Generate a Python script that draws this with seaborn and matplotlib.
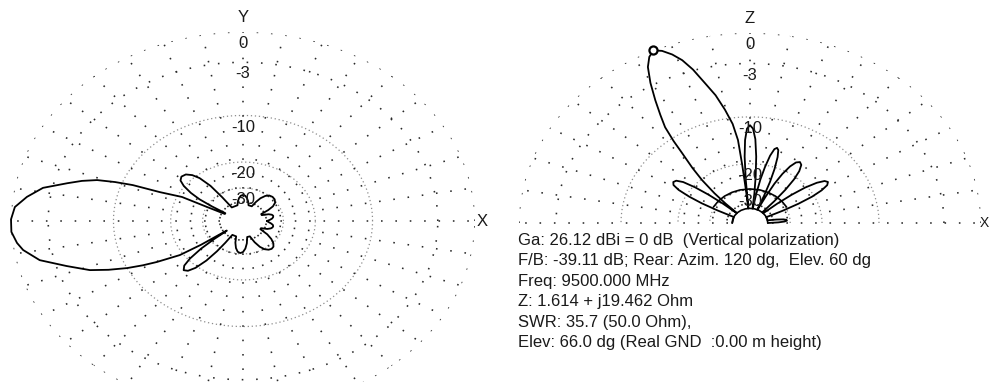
import numpy as np
import matplotlib
matplotlib.use("Agg")
import matplotlib.pyplot as plt
import seaborn as sns

# ---------------------------------------------------------------
# Horizontal (azimuth) pattern: angle in degrees, level in dB
# ---------------------------------------------------------------
azim_deg = [0, 3, 6, 9, 12, 15, 18, 21,
            25, 28, 31, 35, 40, 45, 50, 54, 58, 61, 64,
            74, 78, 82, 86, 90, 94, 98, 102, 106,
            124, 125.5, 127, 129.5, 132, 135, 138.5, 141.5, 144, 146.5, 148.5, 150, 151.5,
            154.6, 154.4, 154.2, 156.9, 158.2, 159.5, 161, 163, 165.2, 168.5, 172.2, 175.7,
            179.5, 183.3, 186.8, 189.2, 193.3, 197.4, 201.5, 204, 206.5, 208.5, 210.3,
            213.5, 214.8, 215.6,
            216.5, 217.5, 219, 221, 223, 225.5, 228, 230.5, 233, 235, 236.5, 238,
            250, 254, 258, 262, 266, 270, 274, 278, 282,
            290, 294, 298, 302, 306, 310, 314, 318, 322, 326, 330,
            334, 338, 342, 345, 348, 351, 354, 357, 360]
azim_db = [-39, -37, -35.5, -34.8, -34.6, -35.2, -37, -42,
           -42, -36, -32.5, -30.5, -29.6, -29.4, -29.8, -31, -33.5, -37, -42,
           -42, -38.5, -36, -34.5, -34, -34.5, -36, -38.5, -42,
           -42, -32, -25, -21, -19.2, -18.1, -17.8, -18.3, -19.8, -22.5, -26, -32, -42,
           -42, -30, -21.1, -16.2, -11.5, -9.1, -7.0, -5.5, -4.2, -2.2, -1.06, -0.24,
           0.0, 0.0, -0.33, -0.7, -1.8, -3.9, -5.9, -7.8, -10.0, -12.2, -14.5,
           -19.2, -26, -42,
           -42, -32, -25, -20.5, -18.2, -17.3, -17.8, -19.5, -23, -28, -34, -42,
           -42, -36.5, -33, -31, -30.4, -31, -33, -36.5, -42,
           -42, -36, -32, -29.8, -28.7, -28.3, -28.6, -29.8, -32, -35.5, -42,
           -42, -37.5, -35.5, -34.8, -34.6, -35, -36.2, -37.8, -39]

# ---------------------------------------------------------------
# Vertical (elevation) pattern over real ground
# ---------------------------------------------------------------
elev_deg = [0, 1.5, 3, 4.5, 6, 7.5, 9, 10.5,
            23.5, 24.5, 25.8, 27.3, 29, 30.8, 32.6, 34.4, 36.2, 38, 39.5, 40.8, 41.8,
            46.5, 47.5, 48.8, 50.3, 52, 54, 56, 58, 59.8, 61.5, 62.9, 64, 65,
            66, 67, 68.2, 69.5, 71, 72.3, 73.5, 74.8, 76.2, 77.6, 78.9, 80, 81,
            82, 83, 84.3, 85.6, 87, 88.5, 90, 91.5, 92.8, 93.8, 94.6, 95.2,
            95.8, 96.3, 96.8, 98.2, 100.3, 102.5, 104.8, 107, 108.9, 110.8, 112.8,
            114.7, 116.5, 118.3, 120.3, 122.4, 124.3, 126.1, 127.5, 128.6, 130.7,
            132.6, 134.5, 136, 137.2,
            138, 139, 140.3, 141.7, 143.3, 145.1, 147, 148.9, 150.6, 152.2, 153.6,
            154.8, 155.8, 180]
elev_db = [-44, -36, -32.5, -31.4, -31.6, -33, -37, -44,
           -44, -32, -25, -20.5, -17.8, -16.2, -15.7, -16.1, -17.6, -20.5, -25, -32, -44,
           -44, -32, -25, -20.8, -18.2, -16.7, -16.3, -16.8, -18.3, -21, -25, -32, -44,
           -44, -32, -25, -20.5, -17.2, -15.6, -15.2, -15.6, -17.3, -20.6, -25, -32, -44,
           -44, -32, -24, -18, -14, -12, -11.4, -12, -14.2, -18, -25, -44,
           -30, -20, -14.1, -11, -8.6, -6.4, -4.7, -2.9, -1.7, -0.9, -0.3,
           0.0, -0.4, -1.2, -2.7, -4.6, -6.4, -8.1, -10.5, -12.9, -16.5,
           -20.3, -26, -33, -44,
           -44, -32, -25, -20.5, -17.5, -16.2, -15.9, -16.3, -17.8, -20.8, -25,
           -32, -44, -44]

# weak components traced near the ground
cross_deg = [28, 40, 52, 64, 76, 90, 104, 116, 128, 140, 152]
cross_db = [-29.5, -29.5, -29.5, -29.5, -29.5, -29.5, -29.5, -29.5, -29.5, -29.5, -29.5]
floor_deg = [0, 15, 30, 45, 60, 75, 90, 105, 120, 135, 150, 165, 180]
floor_db = [-44, -44, -44, -44, -44, -44, -44, -44, -44, -44, -44, -44, -44]

outer_rings = [0, -3]
inner_rings = [-10, -20, -30]
ring_db = [0, -3, -10, -20, -30]
ring_labels = ["0", "-3", "-10", "-20", "-30"]

info_lines = [
    "Ga: 26.12 dBi = 0 dB  (Vertical polarization)",
    "F/B: -39.11 dB; Rear: Azim. 120 dg,  Elev. 60 dg",
    "Freq: 9500.000 MHz",
    "Z: 1.614 + j19.462 Ohm",
    "SWR: 35.7 (50.0 Ohm),",
    "Elev: 66.0 dg (Real GND  :0.00 m height)",
]

# ---------------------------------------------------------------
sns.set_theme(style="white")
plt.rcParams["font.family"] = ["Liberation Sans", "DejaVu Sans"]

K = 0.89  # logarithmic polar scale: 2 dB per step of 0.89
R_MIN = -300.0  # practically the centre of the plot
SPOKE_START = -40.0


def db_to_r(d):
    return np.power(K, -np.asarray(d, dtype=float) / 2.0)


def r_to_db(r):
    r = np.maximum(np.asarray(r, dtype=float), 1e-300)
    return -2.0 * np.log(r) / np.log(K)


FW, FH = 989, 382
fig = plt.figure(figsize=(FW / 100, FH / 100), dpi=100)

sparse_dots = dict(color="#2a2a2a", linestyle=(0, (1, 8)), linewidth=1.15)
fine_dots = dict(color="#8c8c8c", linestyle=(0, (1, 2.2)), linewidth=0.9)


def polar_axes(cx, cy, rx, ry, span_deg):
    ax = fig.add_axes([(cx - rx) / FW, ((FH - cy) - ry) / FH,
                       2 * rx / FW, 2 * ry / FH], projection="polar")
    ax.set_aspect("auto")
    ax.set_rscale("function", functions=(db_to_r, r_to_db))
    ax.grid(False)
    ax.set_xticks([])
    ax.set_yticks([])
    ax.set_facecolor("none")
    for sp in ax.spines.values():
        sp.set_visible(False)

    # dotted polar grid: rings at the labelled levels, spokes every 10 degrees
    t0, t1 = span_deg
    arc = np.deg2rad(np.linspace(t0, t1, 721))
    for d in ring_db:
        style = sparse_dots if d in outer_rings else fine_dots
        ax.plot(arc, np.full(arc.size, float(d)), zorder=1, **style)
    step = 10
    last = t1 if t1 - t0 < 360 else t1 - step
    for a in np.arange(t0, last + 0.1, step):
        ax.plot([np.deg2rad(a)] * 2, [SPOKE_START, 0.0], zorder=1, **sparse_dots)
    return ax


def finish(ax, vert_name, x_size, x_shift, x_align):
    ax.set_rlim(R_MIN, 0)
    ax.set_xlabel("")
    ax.set_ylabel("")
    for d, lbl in zip(ring_db, ring_labels):
        ax.annotate(lbl, xy=(np.pi / 2, d), xytext=(0, -3),
                    textcoords="offset points", ha="center", va="top",
                    fontsize=12, color="#1a1a1a", annotation_clip=False)
    ax.annotate(vert_name, xy=(np.pi / 2, 0), xytext=(0, 5),
                textcoords="offset points", ha="center", va="bottom",
                fontsize=12, color="#1a1a1a", annotation_clip=False)
    ax.annotate("X", xy=(0, 0), xytext=(x_shift, 0), textcoords="offset points",
                ha=x_align, va="center", fontsize=x_size, color="#1a1a1a",
                annotation_clip=False)


# left: azimuth pattern
ax1 = polar_axes(243, 221, 232, 189, (0, 360))
sns.lineplot(x=np.deg2rad(azim_deg), y=azim_db, ax=ax1, sort=False,
             estimator=None, color="black", linewidth=1.3, clip_on=False)
finish(ax1, "Y", 12, 1, "left")

# right: elevation pattern (upper half-plane only)
ax2 = polar_axes(750, 223, 231, 190, (0, 180))
sns.lineplot(x=np.deg2rad(floor_deg), y=floor_db, ax=ax2, sort=False,
             estimator=None, color="black", linewidth=1.2, clip_on=False)
sns.lineplot(x=np.deg2rad(cross_deg), y=cross_db, ax=ax2, sort=False,
             estimator=None, color="black", linewidth=1.2, clip_on=False)
sns.lineplot(x=np.deg2rad(elev_deg), y=elev_db, ax=ax2, sort=False,
             estimator=None, color="black", linewidth=1.3, clip_on=False)
peak = int(np.argmax(elev_db))
sns.scatterplot(x=[np.deg2rad(elev_deg[peak])], y=[elev_db[peak]], ax=ax2,
                s=34, color="white", edgecolor="black", linewidth=1.6,
                zorder=6, clip_on=False)
finish(ax2, "Z", 10, 2.4, "center")

# antenna summary
for i, line in enumerate(info_lines):
    y = 240 + i * 20.6
    fig.text(518 / FW, 1 - y / FH, line, ha="left", va="center",
             fontsize=12, color="#1a1a1a")

fig.savefig("out.png", dpi=100, facecolor="white")
